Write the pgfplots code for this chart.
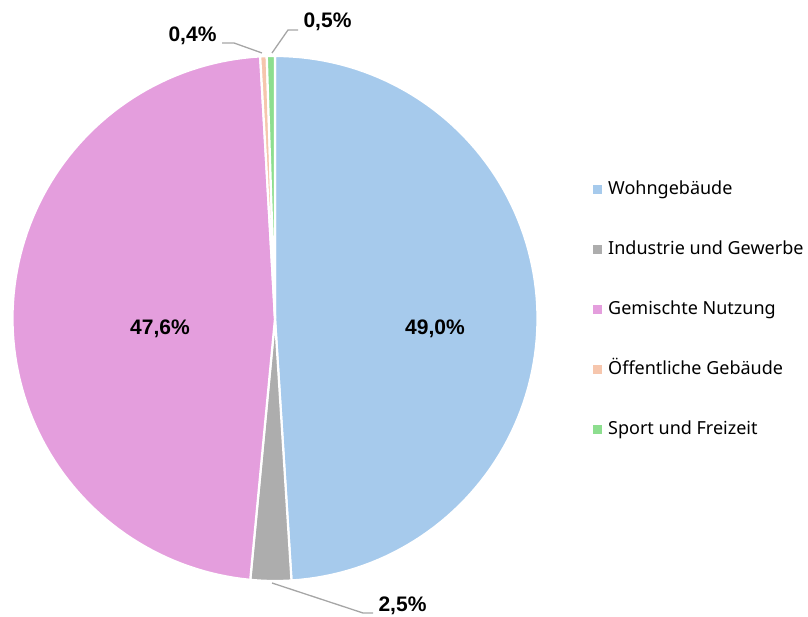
\documentclass[border=0pt]{standalone}
\usepackage{pgfplots}
\pgfplotsset{compat=1.18}
\usepackage{fontspec}
\setmainfont{Liberation Sans}
\newfontfamily\legfont{Noto Sans}
\definecolor{cA}{HTML}{A6CAEC}
\definecolor{cB}{HTML}{ADADAD}
\definecolor{cC}{HTML}{E49EDD}
\definecolor{cD}{HTML}{F6C6AD}
\definecolor{cE}{HTML}{8DDE8F}
\definecolor{lead}{HTML}{A6A6A6}
% data (percent)
\def\vA{49.0}\def\vB{2.5}\def\vC{47.6}\def\vD{0.4}\def\vE{0.5}
\pgfmathsetmacro\aA{90}
\pgfmathsetmacro\aB{\aA-3.6*\vA}
\pgfmathsetmacro\aC{\aB-3.6*\vB}
\pgfmathsetmacro\aD{\aC-3.6*\vC}
\pgfmathsetmacro\aE{\aD-3.6*\vD}
\pgfmathsetmacro\aF{\aE-3.6*\vE}
\def\cx{275}\def\cy{298.5}\def\R{262.5}
\begin{document}
\begin{tikzpicture}
\begin{axis}[width=808pt,height=617pt,scale only axis,
  xmin=0,xmax=808,ymin=0,ymax=617,axis lines=none,clip=false,
  legend style={draw=none,fill=none,at={(axis cs:590,438)},anchor=north west,
    font=\legfont\fontsize{18}{21}\selectfont,
    nodes={inner sep=0pt,text height=13pt,text depth=4pt},
    row sep=43pt,column sep=6pt},
  legend cell align=left,
  legend image code/.code={\fill[#1,draw=none] (0pt,-4.5pt) rectangle (9pt,4.5pt);},
  every axis plot/.append style={draw=white,line width=2.2pt,samples=100}]
\addplot[fill=cA,domain=\aB:\aA] ({\cx+\R*cos(x)},{\cy+\R*sin(x)}) -- (axis cs:\cx,\cy) -- cycle;
\addlegendentry{Wohngebäude}
\addplot[fill=cB,domain=\aC:\aB] ({\cx+\R*cos(x)},{\cy+\R*sin(x)}) -- (axis cs:\cx,\cy) -- cycle;
\addlegendentry{Industrie und Gewerbe}
\addplot[fill=cC,domain=\aD:\aC] ({\cx+\R*cos(x)},{\cy+\R*sin(x)}) -- (axis cs:\cx,\cy) -- cycle;
\addlegendentry{Gemischte Nutzung}
\addplot[fill=cD,domain=\aE:\aD,samples=10] ({\cx+\R*cos(x)},{\cy+\R*sin(x)}) -- (axis cs:\cx,\cy) -- cycle;
\addlegendentry{Öffentliche Gebäude}
\addplot[fill=cE,domain=\aF:\aE,samples=10] ({\cx+\R*cos(x)},{\cy+\R*sin(x)}) -- (axis cs:\cx,\cy) -- cycle;
\addlegendentry{Sport und Freizeit}
\draw[lead,line width=1.3pt] (axis cs:222,574) -- (axis cs:234,574) -- (axis cs:262,564);
\draw[lead,line width=1.3pt] (axis cs:272,564) -- (axis cs:288,587) -- (axis cs:298,587);
\draw[lead,line width=1.3pt] (axis cs:272,34) -- (axis cs:363,4) -- (axis cs:373,4);
\begin{scope}[every node/.style={font=\bfseries\fontsize{21}{24}\selectfont,inner sep=0pt}]
\node at (axis cs:435,288) {49,0\%};
\node at (axis cs:160,288) {47,6\%};
\node at (axis cs:192.5,581) {0,4\%};
\node at (axis cs:327.5,595) {0,5\%};
\node at (axis cs:402.5,11) {2,5\%};
\end{scope}
\path (axis cs:0,0) rectangle (axis cs:808,617);
\end{axis}
\end{tikzpicture}
\end{document}
